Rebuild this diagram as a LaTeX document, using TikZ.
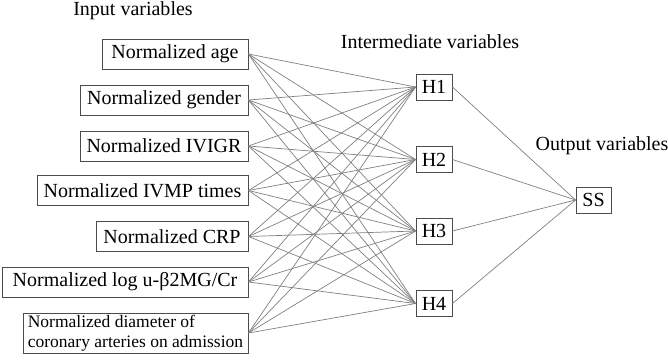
\documentclass[tikz,border=0pt]{standalone}
\usepackage{fontspec}
\setmainfont{Liberation Serif}
\begin{document}
\begin{tikzpicture}[x=1pt,y=-1pt,
  box/.style={draw=black!70,line width=0.9pt,inner sep=0pt,font=\fontsize{20}{22}\selectfont},
  conn/.style={draw=black!50,line width=0.7pt},
  lbl/.style={font=\fontsize{20}{22}\selectfont,inner sep=0pt}]
\useasboundingbox (0,0) rectangle (668,363);
\node[lbl] (tin) at (133,11) {Input variables};
\node[lbl] (tmid) at (430,42) {Intermediate variables};
\node[lbl] (tout) at (602,146) {Output variables};
\node[box,minimum width=146pt,minimum height=30pt] (i1) at (175,54) {Normalized age};
\node[box,minimum width=168pt,minimum height=30pt] (i2) at (164,100) {Normalized gender};
\node[box,minimum width=168pt,minimum height=30pt] (i3) at (164,146) {Normalized IVIGR};
\node[box,minimum width=211pt,minimum height=30pt] (i4) at (142.5,190.5) {Normalized IVMP times};
\node[box,minimum width=152pt,minimum height=30pt] (i5) at (172,236.5) {Normalized CRP};
\node[box,minimum width=246pt,minimum height=30pt] (i6) at (125,282) {Normalized log u-β2MG/Cr};
\node[box,minimum width=225pt,minimum height=40pt,align=left,font=\fontsize{17.5}{19.5}\selectfont] (i7) at (135.5,333) {Normalized diameter of\\coronary arteries on admission};
\node[box,minimum width=36pt,minimum height=26pt] (h1) at (434,87) {H1};
\node[box,minimum width=36pt,minimum height=26pt] (h2) at (434,159.5) {H2};
\node[box,minimum width=36pt,minimum height=26pt] (h3) at (434,231) {H3};
\node[box,minimum width=36pt,minimum height=26pt] (h4) at (434,303.5) {H4};
\node[box,minimum width=35pt,minimum height=26pt] (ss) at (593.5,200) {SS};
\foreach \i in {1,...,7}{
  \foreach \h in {1,...,4}{
    \draw[conn] (i\i.east) -- (h\h.west);
  }
}
\foreach \h in {1,...,4}{
  \draw[conn] (h\h.east) -- (ss.west);
}
\end{tikzpicture}
\end{document}
